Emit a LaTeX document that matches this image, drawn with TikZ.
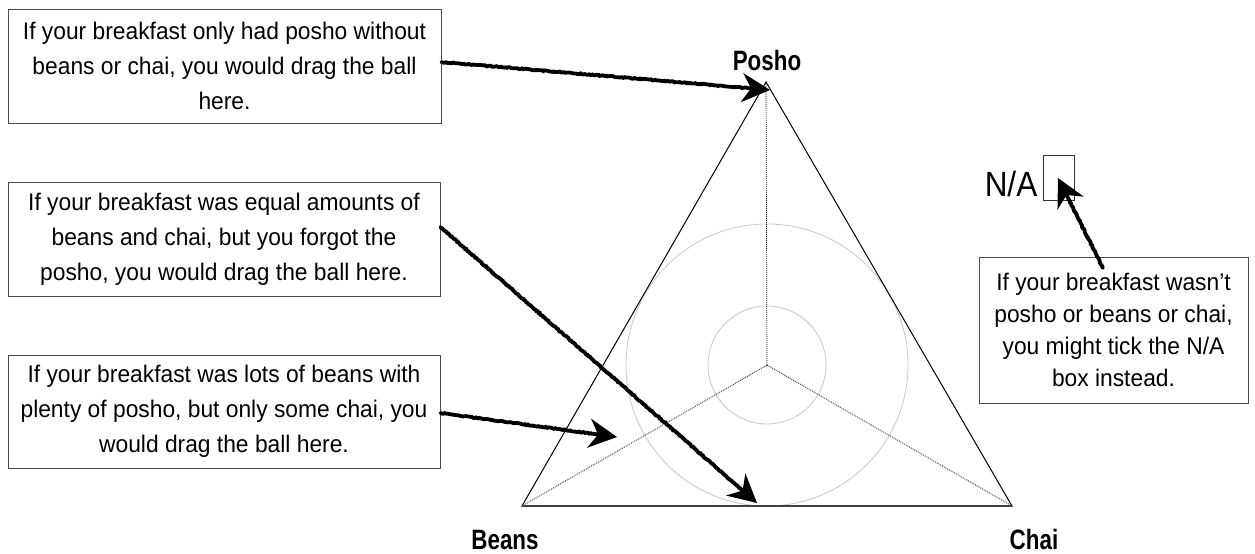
\documentclass[tikz,border=0pt]{standalone}
\usepackage{fontspec}
\setmainfont{Liberation Sans}
\newfontfamily\bodyfont[FakeStretch=0.95]{Liberation Sans}
\newfontfamily\cornerfont[FakeStretch=0.8]{Liberation Sans}
\newfontfamily\nafont[FakeStretch=0.9]{Liberation Sans}
\usetikzlibrary{arrows.meta,decorations.pathmorphing}

\tikzset{
  note/.style={draw=black!70, line width=0.9bp, fill=white, inner sep=0pt,
    align=center, font=\bodyfont\fontsize{24bp}{35bp}\selectfont},
  corner/.style={font=\cornerfont\bfseries\fontsize{28bp}{30bp}\selectfont, inner sep=0pt},
  edge/.style={line width=1bp, line join=miter},
  spoke/.style={line width=0.7bp, dash pattern=on 1bp off 1bp},
  ring/.style={draw=black!20, line width=0.9bp},
  sketch/.style={line width=3.8bp, line cap=round,
    decoration={random steps, segment length=1.5bp, amplitude=0.5bp, post length=22bp},
    decorate, -{Stealth[length=28bp, width=29bp, inset=9bp]}}
}

\begin{document}
\begin{tikzpicture}[x=1bp, y=-1bp]
\useasboundingbox (0,0) rectangle (1255,554);

% triangle corners and centre
\coordinate (P) at (766,82);
\coordinate (B) at (522,506);
\coordinate (C) at (1012,506);
\coordinate (O) at (767,365);

% guide rings
\draw[ring] (O) circle[radius=141];
\draw[ring] (O) circle[radius=59];

% spokes from the centre to each corner
\draw[spoke] (O) -- (P);
\draw[spoke] (O) -- (B);
\draw[spoke] (O) -- (C);

% the triangle itself
\draw[edge] (P) -- (B) -- (C) -- cycle;
\draw[line width=1.4bp, black!75] (B) -- (C);

% corner labels
\node[corner] (posho) at (767,60) {Posho};
\node[corner] (beans) at (505,540) {Beans};
\node[corner] (chai) at (1034,539) {Chai};

% the N/A tick box
\node[font=\nafont\fontsize{35bp}{36bp}\selectfont, inner sep=0pt] (na) at (1011,184) {N/A};
\node[draw=black!80, line width=1bp, minimum width=31bp, minimum height=45bp, inner sep=0pt] (nabox) at (1058.5,178.5) {};

% explanatory notes
\node[note, minimum width=433bp, minimum height=114bp] (n1) at (224.5,66)
  {If your breakfast only had posho without\\beans or chai, you would drag the ball\\here.};
\node[note, minimum width=432bp, minimum height=114bp] (n2) at (224,239)
  {If your breakfast was equal amounts of\\beans and chai, but you forgot the\\posho, you would drag the ball here.};
\node[note, minimum width=432bp, minimum height=113bp] (n3) at (224,411.5)
  {If your breakfast was lots of beans with\\plenty of posho, but only some chai, you\\would drag the ball here.};
\node[note, minimum width=269bp, minimum height=146bp, font=\bodyfont\fontsize{24bp}{32bp}\selectfont] (n4) at (1113.5,330)
  {If your breakfast wasn’t\\posho or beans or chai,\\you might tick the N/A\\box instead.};

% arrow ends
\coordinate (t1) at (770,90);
\coordinate (t2) at (757,503);
\coordinate (t3) at (617,437);
\coordinate (t4) at (1058,178);
\coordinate (s4) at (1103,268);

% hand-drawn pointers
\draw[sketch] (n1.east |- 0,62) -- (t1);
\draw[sketch] (n2.east |- 0,227) -- (t2);
\draw[sketch] (n3.east |- 0,413) -- (t3);
\draw[sketch] (s4) -- (t4);
\end{tikzpicture}
\end{document}
